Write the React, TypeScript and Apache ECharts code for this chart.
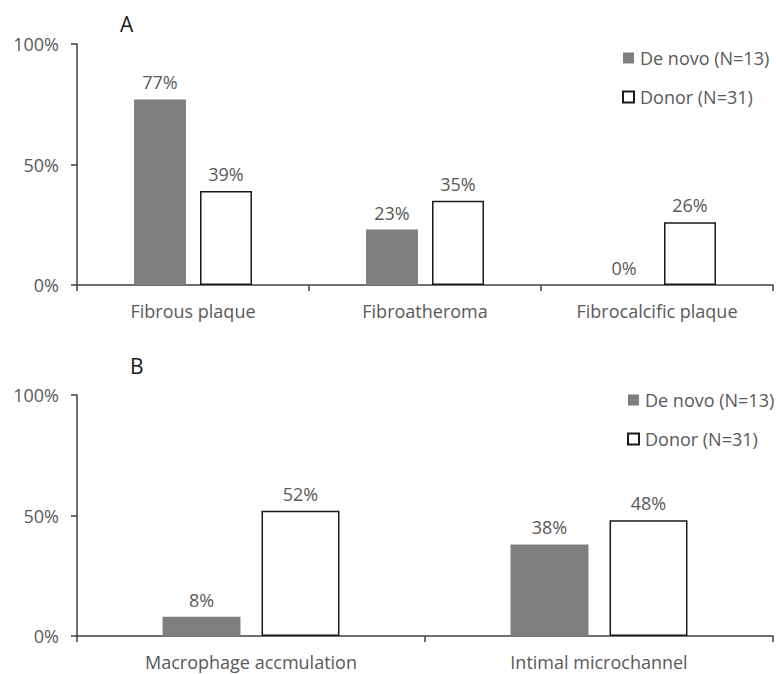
import React, { useEffect, useRef } from "react";
import * as echarts from "echarts";

const seriesNames = ["De novo (N=13)", "Donor (N=31)"];
const categoriesA = ["Fibrous plaque", "Fibroatheroma", "Fibrocalcific plaque"];
const deNovoAValues = [77, 23, 0];
const donorAValues = [39, 35, 26];
const categoriesB = ["Macrophage accmulation", "Intimal microchannel"];
const deNovoBValues = [8, 38];
const donorBValues = [52, 48];
const yTicks = [0, 50, 100];

const FONT = "Open Sans";
const GRAY = "#595959";
const FS = 18;

export default function App() {
  const ref = useRef<HTMLDivElement>(null);
  useEffect(() => {
    if (!ref.current) return;
    const chart = echarts.init(ref.current, undefined, { renderer: "svg" });
    const xAxisCommon = {
      type: "category" as const,
      axisLine: { lineStyle: { color: "#404040", width: 1.5 } },
      axisTick: { show: true, length: 6, lineStyle: { color: "#404040", width: 1.5 } },
      axisLabel: { color: GRAY, fontSize: FS, fontFamily: FONT, margin: 17 },
      boundaryGap: true,
    };
    const yAxisCommon = {
      type: "value" as const,
      min: yTicks[0],
      max: yTicks[yTicks.length - 1],
      interval: 50,
      axisLine: { show: true, lineStyle: { color: "#404040", width: 1.5 } },
      axisTick: { show: true, length: 6, lineStyle: { color: "#404040", width: 1.5 } },
      splitLine: { show: false },
      axisLabel: {
        color: GRAY,
        fontSize: FS,
        fontFamily: FONT,
        margin: 18,
        formatter: "{value}%",
      },
    };
    const labelStyle = {
      show: true,
      position: "top" as const,
      distance: 8,
      formatter: "{c}%",
      color: GRAY,
      fontSize: FS,
      fontFamily: FONT,
    };
    const darkStyle = { color: "#7f7f7f" };
    const whiteStyle = { color: "#ffffff", borderColor: "#1a1a1a", borderWidth: 1.5 };
    const legendCommon = {
      orient: "vertical" as const,
      icon: "rect",
      itemWidth: 11,
      itemHeight: 11,
      itemGap: 19,
      padding: 0,
      data: seriesNames,
      textStyle: { color: GRAY, fontSize: FS, fontFamily: FONT, lineHeight: 20, padding: [0, 0, 0, 1] },
      selectedMode: false,
    };
    const titleText = { fontSize: 21, fontWeight: "normal" as const, color: "#1a1a1a", fontFamily: FONT };
    chart.setOption({
      animation: false,
      backgroundColor: "#ffffff",
      title: [
        { text: "A", left: 120, top: 13, padding: 0, textStyle: titleText },
        { text: "B", left: 130, top: 355, padding: 0, textStyle: titleText },
      ],
      legend: [
        { ...legendCommon, left: 622, top: 48 },
        { ...legendCommon, left: 627, top: 390 },
      ],
      grid: [
        { left: 77, top: 44, width: 696, height: 241 },
        { left: 77, top: 395, width: 696, height: 241 },
      ],
      xAxis: [
        { ...xAxisCommon, gridIndex: 0, data: categoriesA },
        { ...xAxisCommon, gridIndex: 1, data: categoriesB },
      ],
      yAxis: [
        { ...yAxisCommon, gridIndex: 0 },
        { ...yAxisCommon, gridIndex: 1 },
      ],
      series: [
        {
          name: seriesNames[0],
          type: "bar",
          xAxisIndex: 0,
          yAxisIndex: 0,
          data: deNovoAValues,
          barWidth: "22.4%",
          barGap: "27%",
          itemStyle: darkStyle,
          label: labelStyle,
        },
        {
          name: seriesNames[1],
          type: "bar",
          xAxisIndex: 0,
          yAxisIndex: 0,
          data: donorAValues,
          barWidth: "22.4%",
          barGap: "27%",
          itemStyle: whiteStyle,
          label: labelStyle,
        },
        {
          name: seriesNames[0],
          type: "bar",
          xAxisIndex: 1,
          yAxisIndex: 1,
          data: deNovoBValues,
          barWidth: "22.4%",
          barGap: "27%",
          itemStyle: darkStyle,
          label: labelStyle,
        },
        {
          name: seriesNames[1],
          type: "bar",
          xAxisIndex: 1,
          yAxisIndex: 1,
          data: donorBValues,
          barWidth: "22.4%",
          barGap: "27%",
          itemStyle: whiteStyle,
          label: labelStyle,
        },
      ],
    });
    return () => chart.dispose();
  }, []);
  return <div ref={ref} style={{ width: 776, height: 674, position: "absolute", left: 0, top: 0 }} />;
}
